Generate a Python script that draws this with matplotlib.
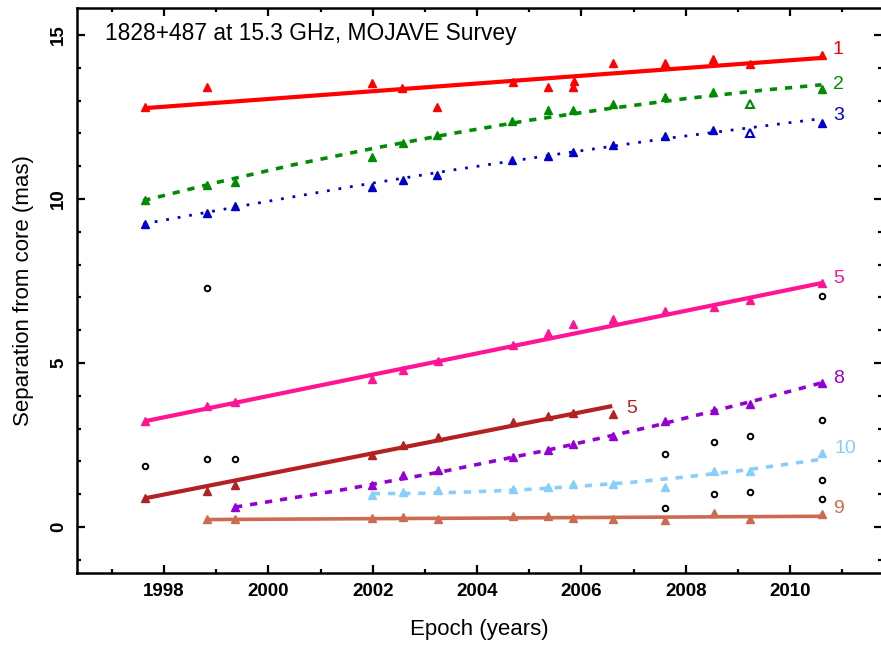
import matplotlib
matplotlib.use('Agg')
import matplotlib.pyplot as plt
from matplotlib.ticker import MultipleLocator

plt.rcParams['font.family'] = ['Liberation Sans', 'DejaVu Sans']

# component 1 (red)
c1_epoch = [1997.64, 1998.82, 2001.99, 2002.56, 2003.23, 2004.69, 2005.36, 2005.84, 2005.86,
            2006.61, 2007.60, 2008.52, 2009.23, 2010.61]
c1_sep = [12.80, 13.41, 13.54, 13.38, 12.80, 13.57, 13.41, 13.41, 13.60,
          14.15, 14.15, 14.27, 14.12, 14.39]
c1_fit_epoch = [1997.64, 2010.61]
c1_fit_sep = [12.77, 14.30]

# component 2 (green)
c2_epoch = [1997.64, 1998.82, 1999.36, 2001.99, 2002.58, 2003.23, 2004.67, 2005.36, 2005.84,
            2006.61, 2007.60, 2008.52, 2010.61]
c2_sep = [9.97, 10.43, 10.52, 11.28, 11.70, 11.95, 12.38, 12.71, 12.71,
          12.90, 13.11, 13.26, 13.35]
c2_out_epoch = [2009.23]
c2_out_sep = [12.90]
c2_fit_epoch = [1997.6, 1999.0, 2000.5, 2002.0, 2003.5, 2005.0, 2006.5, 2008.0, 2009.5, 2010.6]
c2_fit_sep = [9.95, 10.50, 11.05, 11.54, 11.99, 12.40, 12.75, 13.06, 13.32, 13.48]

# component 3 (blue)
c3_epoch = [1997.64, 1998.82, 1999.36, 2001.99, 2002.58, 2003.23, 2004.67, 2005.36, 2005.84,
            2006.61, 2007.60, 2008.52, 2010.61]
c3_sep = [9.24, 9.57, 9.79, 10.37, 10.58, 10.73, 11.19, 11.31, 11.43,
          11.65, 11.92, 12.10, 12.32]
c3_out_epoch = [2009.23]
c3_out_sep = [12.01]
c3_fit_epoch = [1997.6, 1999.6, 2001.6, 2003.6, 2005.6, 2007.6, 2010.6]
c3_fit_sep = [9.24, 9.82, 10.38, 10.90, 11.38, 11.84, 12.45]

# component 5 (pink)
c5_epoch = [1997.64, 1998.82, 1999.36, 2001.99, 2002.58, 2003.25, 2004.69, 2005.36, 2005.84,
            2006.61, 2007.60, 2008.54, 2009.23, 2010.61]
c5_sep = [3.23, 3.69, 3.81, 4.51, 4.79, 5.06, 5.55, 5.91, 6.19,
          6.34, 6.59, 6.71, 6.92, 7.44]
c5_fit_epoch = [1997.64, 2010.61]
c5_fit_sep = [3.23, 7.44]

# component 5 (dark red, inner)
c5b_epoch = [1997.64, 1998.82, 1999.36, 2001.99, 2002.58, 2003.25, 2004.69, 2005.36, 2005.84, 2006.61]
c5b_sep = [0.88, 1.10, 1.28, 2.20, 2.50, 2.74, 3.20, 3.38, 3.47, 3.44]
c5b_fit_epoch = [1997.64, 2006.59]
c5b_fit_sep = [0.88, 3.69]

# component 8 (purple)
c8_epoch = [1999.36, 2001.99, 2002.58, 2003.25, 2004.69, 2005.36, 2005.84,
            2006.61, 2007.60, 2008.54, 2009.23, 2010.61]
c8_sep = [0.61, 1.28, 1.59, 1.74, 2.13, 2.35, 2.53, 2.77, 3.23, 3.57, 3.75, 4.39]
c8_fit_epoch = [1999.36, 2001.36, 2003.36, 2005.36, 2007.36, 2009.36, 2010.61]
c8_fit_sep = [0.61, 1.12, 1.70, 2.35, 3.07, 3.87, 4.40]

# component 10 (light blue)
c10_epoch = [2001.99, 2002.58, 2003.25, 2004.69, 2005.36, 2005.84, 2006.61,
             2007.60, 2008.54, 2009.23, 2010.61]
c10_sep = [0.98, 1.07, 1.13, 1.16, 1.22, 1.31, 1.31, 1.22, 1.71, 1.71, 2.26]
c10_fit_epoch = [2002.0, 2003.0, 2004.0, 2005.0, 2006.0, 2007.0, 2008.0, 2009.0, 2010.0, 2010.6]
c10_fit_sep = [1.02, 1.03, 1.08, 1.15, 1.25, 1.37, 1.53, 1.71, 1.93, 2.07]

# component 9 (brown)
c9_epoch = [1998.82, 1999.36, 2001.99, 2002.58, 2003.25, 2004.69, 2005.36, 2005.84,
            2006.61, 2007.60, 2008.54, 2009.23, 2010.61]
c9_sep = [0.24, 0.24, 0.27, 0.31, 0.24, 0.34, 0.34, 0.27, 0.24, 0.21, 0.43, 0.24, 0.40]
c9_fit_epoch = [1998.82, 2010.61]
c9_fit_sep = [0.23, 0.33]

# unidentified features (open circles)
other_epoch = [1997.64, 1998.82, 1999.36, 1998.82, 2007.60, 2008.54, 2009.23, 2010.61,
               2010.61, 2008.54, 2009.23, 2010.61, 2010.61, 2007.60]
other_sep = [1.87, 2.07, 2.07, 7.29, 2.23, 2.59, 2.77, 3.26,
             7.04, 1.01, 1.07, 1.43, 0.85, 0.58]

comp_names = ['1', '2', '3', '5', '5', '8', '10', '9']

fig = plt.figure(figsize=(8.81, 6.48), dpi=100)
ax = fig.add_axes([0.0874, 0.1157, 0.9137, 0.8719])

series = [
    (c1_epoch, c1_sep, c1_fit_epoch, c1_fit_sep, '#ff0000', '-', 3.0),
    (c2_epoch, c2_sep, c2_fit_epoch, c2_fit_sep, '#008c00', (0, (2, 2.2)), 2.6),
    (c3_epoch, c3_sep, c3_fit_epoch, c3_fit_sep, '#0000cc', (0, (1, 3.2)), 2.0),
    (c5_epoch, c5_sep, c5_fit_epoch, c5_fit_sep, '#ff1493', '-', 3.0),
    (c5b_epoch, c5b_sep, c5b_fit_epoch, c5b_fit_sep, '#b22222', '-', 3.0),
    (c8_epoch, c8_sep, c8_fit_epoch, c8_fit_sep, '#9400d3', (0, (2, 2.2)), 2.6),
    (c10_epoch, c10_sep, c10_fit_epoch, c10_fit_sep, '#87cefa', (0, (2, 2.2)), 2.6),
    (c9_epoch, c9_sep, c9_fit_epoch, c9_fit_sep, '#cc6b4f', '-', 2.6),
]

for ep, sep, fep, fsep, col, ls, lw in series:
    ax.plot(fep, fsep, color=col, linestyle=ls, linewidth=lw, solid_capstyle='butt', zorder=2)
    ax.plot(ep, sep, linestyle='none', marker='^', markersize=6, color=col, zorder=3)

# points left out of the fits
ax.plot(c2_out_epoch, c2_out_sep, linestyle='none', marker='^', markersize=6,
        markerfacecolor='none', markeredgecolor='#008c00', markeredgewidth=1.5, zorder=3)
ax.plot(c3_out_epoch, c3_out_sep, linestyle='none', marker='^', markersize=6,
        markerfacecolor='none', markeredgecolor='#0000cc', markeredgewidth=1.5, zorder=3)

ax.plot(other_epoch, other_sep, linestyle='none', marker='o', markersize=4,
        markerfacecolor='none', markeredgecolor='black', markeredgewidth=1.4, zorder=3)

# component names next to the fit ends
label_pos = [(2010.82, 14.57), (2010.82, 13.48), (2010.82, 12.53), (2010.82, 7.59),
             (2006.86, 3.60), (2010.82, 4.54), (2010.85, 2.41), (2010.82, 0.58)]
for name, (lx, ly), s in zip(comp_names, label_pos, series):
    ax.text(lx, ly, name, color=s[4], fontsize=14, ha='left', va='center')

ax.text(0.035, 0.955, '1828+487 at 15.3 GHz, MOJAVE Survey', transform=ax.transAxes,
        fontsize=16.4, ha='left', va='center')

ax.set_xlim(1996.33, 2011.76)
ax.set_ylim(-1.40, 15.82)
ax.xaxis.set_major_locator(MultipleLocator(2))
ax.xaxis.set_minor_locator(MultipleLocator(1))
ax.yaxis.set_major_locator(MultipleLocator(5))
ax.yaxis.set_minor_locator(MultipleLocator(1))
ax.tick_params(which='both', direction='in', top=True, right=True, width=1.6)
ax.tick_params(which='major', length=6, labelsize=13.5, pad=7)
ax.tick_params(which='minor', length=3)
for lab in ax.get_xticklabels() + ax.get_yticklabels():
    lab.set_fontweight('bold')
for lab in ax.get_yticklabels():
    lab.set_rotation(90)
    lab.set_va('center')
for sp in ax.spines.values():
    sp.set_linewidth(1.8)

ax.set_xlabel('Epoch (years)', fontsize=16, labelpad=14)
ax.set_ylabel('Separation from core (mas)', fontsize=16, labelpad=12)

plt.savefig('out.png', dpi=100)
